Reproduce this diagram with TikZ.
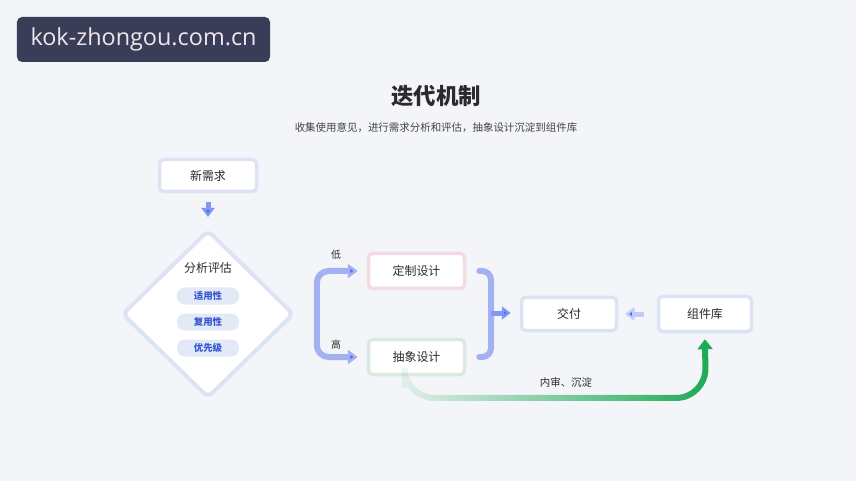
\documentclass[tikz,border=0pt]{standalone}
\usepackage{fontspec}
\setmainfont{Noto Sans CJK SC}
\newfontfamily\sitefont{Open Sans}
\usetikzlibrary{positioning, shapes.geometric, arrows.meta, calc, fadings}

\definecolor{bgcol}{HTML}{F3F5F9}
\definecolor{sitebg}{HTML}{3A3D57}
\definecolor{sitetext}{HTML}{F2E6EE}
\definecolor{textcol}{HTML}{2B2B2B}
\definecolor{subcol}{HTML}{444444}
\definecolor{edgeblue}{HTML}{DCE4F4}
\definecolor{edgepink}{HTML}{F2DCE1}
\definecolor{edgegreen}{HTML}{DAEBDD}
\definecolor{pillfill}{HTML}{E3E9F7}
\definecolor{pilltext}{HTML}{3557D4}
\definecolor{barblue}{HTML}{A3B1F2}
\definecolor{tipblue}{HTML}{4D6BEF}
\definecolor{flowgreen}{HTML}{1FAA55}

\tikzfading[name=fadeinright, left color=transparent!92, right color=transparent!0]

\tikzset{
  box/.style={draw=#1, line width=3.5bp, fill=white, rounded corners=4bp,
    minimum width=96bp, minimum height=34bp, inner sep=0pt,
    text=textcol, font=\fontsize{12}{14}\selectfont},
  pill/.style={fill=pillfill, rounded corners=8bp, minimum width=62bp,
    minimum height=17bp, inner sep=0pt, text=pilltext,
    font=\bfseries\fontsize{9.5}{11}\selectfont},
  lbl/.style={text=textcol, font=\fontsize{10}{12}\selectfont},
  bluebar/.style={draw=barblue, line width=6bp, line cap=round},
  bluetip/.tip={Triangle[length=10bp, width=14bp, fill=tipblue]},
  bluearrow/.style={draw=tipblue!70, line width=5bp,
    -{Triangle[length=9bp, width=13bp, fill=tipblue]}},
}

\begin{document}
\begin{tikzpicture}[x=1bp, y=-1bp]
  % Background
  \fill[bgcol] (0,0) rectangle (856,481);
  \useasboundingbox (0,0) rectangle (856,481);

  % Site tag
  \node[fill=sitebg, rounded corners=5bp, minimum width=253bp, minimum height=45bp,
    text=sitetext, font=\sitefont\fontsize{23.5}{27}\selectfont] (site) at (143.5,39.5) {kok-zhongou.com.cn};

  % Heading
  \node[text=textcol, font=\bfseries\fontsize{22.5}{26}\selectfont] (title) at (436,96) {迭代机制};
  \node[text=subcol, font=\fontsize{10.5}{12}\selectfont] (subtitle) at (436,128)
    {收集使用意见，进行需求分析和评估，抽象设计沉淀到组件库};

  % Nodes
  \node[box=edgeblue, minimum width=97bp, minimum height=32bp] (req) at (208,175.5) {新需求};
  \node[diamond, draw=edgeblue, line width=4bp, fill=white, rounded corners=6bp,
    minimum width=172bp, minimum height=168bp, inner sep=0pt] (eval) at (208,314) {};
  \node[lbl, font=\fontsize{12}{14}\selectfont] (evaltitle) at (208,268) {分析评估};
  \foreach \t [count=\i] in {适用性,复用性,优先级}
    \node[pill] (crit\i) at (208,270+26*\i) {\t};

  \node[box=edgepink, minimum height=35bp] (custom) at (416.5,271) {定制设计};
  \node[box=edgegreen, minimum height=35bp] (abstr) at (416.5,357) {抽象设计};
  \node[box=edgeblue, minimum width=95bp, minimum height=33bp] (deliver) at (569,314) {交付};
  \node[box=edgeblue, minimum width=93bp, minimum height=35bp] (lib) at (705,314) {组件库};

  \node[lbl] (lowlbl) at (336,255) {低};
  \node[lbl] (highlbl) at (336,345) {高};
  \node[lbl, font=\fontsize{10.5}{12}\selectfont] (sinklbl) at (566,383) {内审、沉淀};

  % Arrows
  \draw[bluearrow, shorten <=9bp, shorten >=11bp] (req.south) -- (eval.north);

  \draw[bluebar, rounded corners=12bp, line cap=butt, bluetip-bluetip]
    ([xshift=-9bp]custom.west) -- ++(-41,0) |- ([xshift=-9bp]abstr.west);

  \coordinate (rb) at (491,313);
  \draw[bluebar, rounded corners=9bp] ([xshift=13bp]custom.east) -| (rb) |- ([xshift=13bp]abstr.east);
  \draw[bluearrow, shorten >=9bp] (rb) -- (rb -| deliver.west);

  \draw[bluearrow, draw=tipblue!35, shorten <=13bp, shorten >=7bp] (lib.west) -- (deliver.east);

  \coordinate (gturn) at (706,398);
  \draw[draw=flowgreen, line width=6bp, rounded corners=30bp, path fading=fadeinright,
    -{Triangle[length=10bp, width=15bp, fill=flowgreen]}]
    ([shift={(-12,12)}]abstr.south) |- (gturn) -- ([yshift=-6bp]lib.south);
\end{tikzpicture}
\end{document}
